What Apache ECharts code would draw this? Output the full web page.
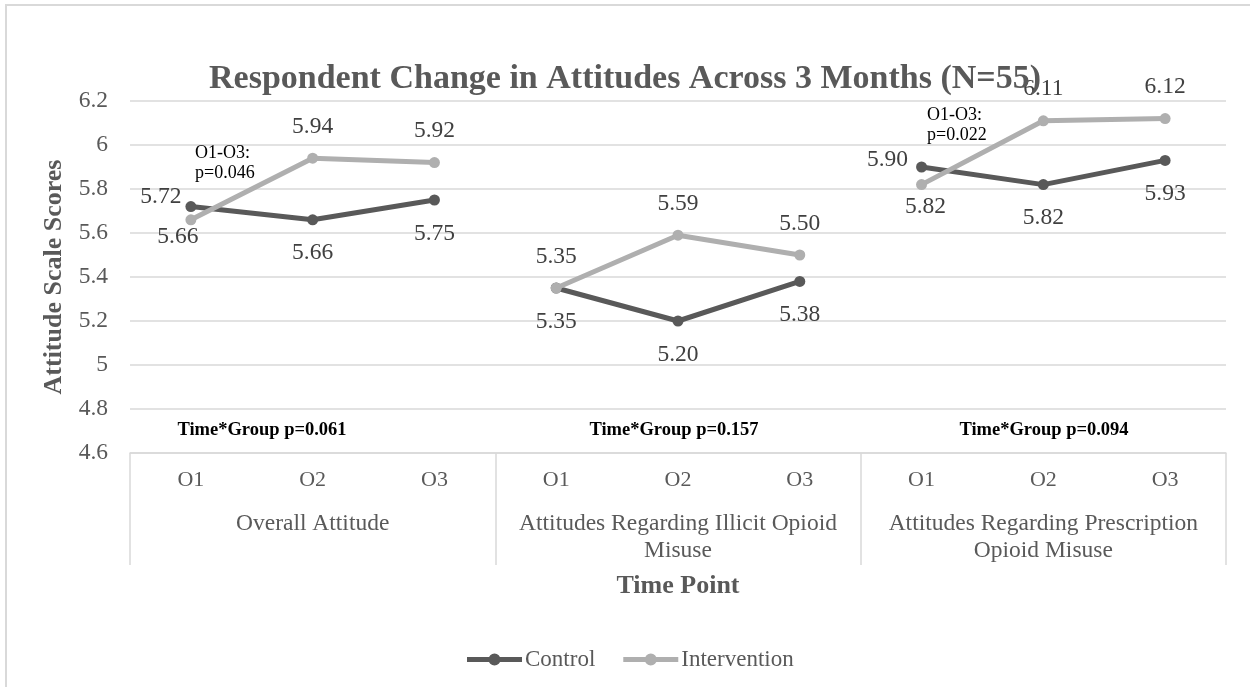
<!DOCTYPE html>
<html>
<head>
<meta charset="utf-8">
<title>Respondent Change in Attitudes Across 3 Months (N=55)</title>
<script src="https://cdn.jsdelivr.net/npm/echarts@6/dist/echarts.min.js"></script>
<style>
  html, body { margin: 0; padding: 0; background: #fff; }
  #chart { width: 1250px; height: 687px; }
</style>
</head>
<body>
<div id="chart"></div>
<script>
// Time points within each attitude scale
const timePoints = ['O1', 'O2', 'O3'];
// Attitude scales (outer category level)
const scales = [
  'Overall Attitude',
  'Attitudes Regarding Illicit Opioid\nMisuse',
  'Attitudes Regarding Prescription\nOpioid Misuse'
];
// Mean scores, O1..O3 for each scale in order
const controlScores = [5.72, 5.66, 5.75, 5.35, 5.20, 5.38, 5.90, 5.82, 5.93];
const interventionScores = [5.66, 5.94, 5.92, 5.35, 5.59, 5.50, 5.82, 6.11, 6.12];
// Interaction test per scale
const interactionP = ['0.061', '0.157', '0.094'];
// Pairwise O1-O3 tests for the intervention group
const pairwiseNotes = [
  { scale: 0, text: 'O1-O3:\np=0.046' },
  { scale: 2, text: 'O1-O3:\np=0.022' }
];
// Y axis range
const yMin = 4.6, yMax = 6.2, yStep = 0.2;

const FONT = "'Liberation Serif', 'Times New Roman', serif";
const DARK = '#595959';
const LIGHT = '#afafaf';
const GRID = '#d9d9d9';

// Label placement for each point (styling only)
const controlLabelPlace = ['left', 'below', 'below', 'below', 'below', 'below', 'left', 'below', 'below'];
const interventionLabelPlace = ['below-near', 'above', 'above', 'above', 'above', 'above', 'below-near', 'above', 'above'];
const labelTweaks = {
  left: [{ distance: 4, offset: [0, -10] }, { distance: 8, offset: [0, -7] }],
  near: [{ distance: 0, offset: [-13, 0] }, { distance: 5, offset: [4, 0] }]
};

const categories = [];
scales.forEach(() => timePoints.forEach(t => categories.push(t)));

function labelFor(place, i) {
  const base = {
    show: true, fontFamily: FONT, fontSize: 23.5, color: '#404040',
    formatter: p => Number(p.value).toFixed(2)
  };
  const g = i < 3 ? 0 : 1;
  if (place === 'left') return Object.assign(base, { position: 'left' }, labelTweaks.left[g]);
  if (place === 'above') return Object.assign(base, { position: 'top', distance: 14 });
  if (place === 'below-near') return Object.assign(base, { position: 'bottom' }, labelTweaks.near[g]);
  return Object.assign(base, { position: 'bottom', distance: 16 });
}

function buildSeries(name, values, places, color) {
  return scales.map((s, g) => {
    const data = categories.map((c, i) => {
      if (Math.floor(i / timePoints.length) !== g) return '-';
      return { value: values[i], label: labelFor(places[i], i) };
    });
    return {
      name: name,
      type: 'line',
      data: data,
      xAxisIndex: 0,
      symbol: 'circle',
      symbolSize: 11,
      lineStyle: { color: color, width: 5 },
      itemStyle: { color: color },
      connectNulls: false,
      z: name === 'Control' ? 3 : 4,
      emphasis: { disabled: true }
    };
  });
}

// Legend swatch: thick line with a dot in the middle
const swatch = 'path://M0,3.5 L55,3.5 L55,8.5 L0,8.5 Z M21.5,6 A6,6 0 1,1 33.5,6 A6,6 0 1,1 21.5,6 Z';

const chart = echarts.init(document.getElementById('chart'), null, { renderer: 'canvas' });

const option = {
  animation: false,
  backgroundColor: '#fff',
  textStyle: { fontFamily: FONT },
  title: {
    text: 'Respondent Change in Attitudes Across 3 Months (N=55)',
    left: 'center',
    top: 57,
    textStyle: { fontFamily: FONT, fontSize: 34, fontWeight: 'bold', color: DARK }
  },
  legend: {
    top: 643,
    left: 462,
    itemWidth: 55,
    itemHeight: 12,
    itemGap: 28,
    data: [
      { name: 'Control', icon: swatch, itemStyle: { color: DARK } },
      { name: 'Intervention', icon: swatch, itemStyle: { color: LIGHT } }
    ],
    textStyle: { fontFamily: FONT, fontSize: 23, color: DARK, padding: [0, 0, 0, -2] }
  },
  grid: { left: 130, right: 24, top: 101, bottom: 234, containLabel: false },
  xAxis: [
    {
      type: 'category',
      data: categories,
      position: 'bottom',
      boundaryGap: true,
      axisLine: { show: true, lineStyle: { color: GRID, width: 1.5 } },
      axisTick: { show: false },
      axisLabel: { interval: 0, margin: 16, fontFamily: FONT, fontSize: 22, color: DARK }
    },
    {
      type: 'category',
      data: scales,
      position: 'bottom',
      boundaryGap: true,
      axisLine: { show: false },
      axisTick: { show: true, length: 112, interval: 0, lineStyle: { color: GRID, width: 1.5 } },
      axisLabel: { interval: 0, margin: 57, fontFamily: FONT, fontSize: 23.5, color: DARK, lineHeight: 27 },
      name: 'Time Point',
      nameLocation: 'middle',
      nameGap: 120,
      nameTextStyle: { fontFamily: FONT, fontSize: 26, fontWeight: 'bold', color: DARK }
    }
  ],
  yAxis: {
    type: 'value',
    min: yMin,
    max: yMax,
    interval: yStep,
    axisLine: { show: false },
    axisTick: { show: false },
    splitLine: { lineStyle: { color: GRID, width: 1.5 } },
    axisLabel: { margin: 22, fontFamily: FONT, fontSize: 23.5, color: DARK,
      formatter: v => String(Math.round(v * 10) / 10) },
    name: 'Attitude Scale Scores',
    nameLocation: 'middle',
    nameGap: 57,
    nameTextStyle: { fontFamily: FONT, fontSize: 26, fontWeight: 'bold', color: DARK }
  },
  series: [
    ...buildSeries('Control', controlScores, controlLabelPlace, DARK),
    ...buildSeries('Intervention', interventionScores, interventionLabelPlace, LIGHT)
  ]
};

// Text notes and the chart frame
const notes = [];
const interactionX = [262, 674, 1044];
interactionP.forEach((p, g) => {
  notes.push({
    type: 'text', x: interactionX[g], y: 430, z: 10,
    style: { text: 'Time*Group p=' + p, font: 'bold 18.5px ' + FONT,
      fill: '#000', align: 'center', verticalAlign: 'middle' }
  });
});
const noteAnchor = { 0: [195, 143], 2: [927, 105] };
pairwiseNotes.forEach(n => {
  notes.push({
    type: 'text', x: noteAnchor[n.scale][0], y: noteAnchor[n.scale][1], z: 10,
    style: { text: n.text, font: '18px ' + FONT, lineHeight: 20, fill: '#000',
      align: 'left', verticalAlign: 'top' }
  });
});
notes.push({
  type: 'rect', x: 6, y: 5, z: 0, silent: true,
  shape: { width: 1300, height: 720 },
  style: { fill: 'none', stroke: GRID, lineWidth: 2 }
});
option.graphic = notes;

chart.setOption(option);
</script>
</body>
</html>
